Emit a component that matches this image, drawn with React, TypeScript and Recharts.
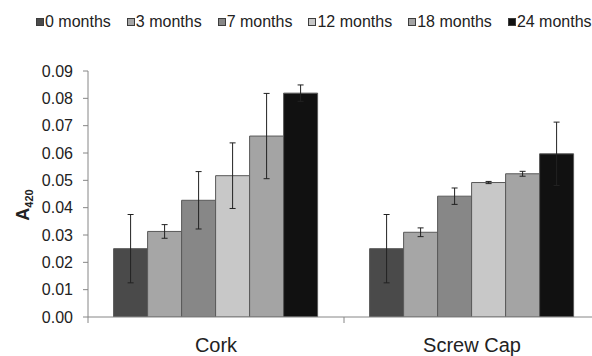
import React from 'react';
import { BarChart, Bar, XAxis, YAxis, ErrorBar } from 'recharts';

const closures = ['Cork', 'Screw Cap'];
const months = ['0 months', '3 months', '7 months', '12 months', '18 months', '24 months'];
const seriesKeys = ['m0', 'm3', 'm7', 'm12', 'm18', 'm24'];
const colors = ['#4a4a4a', '#a6a6a6', '#878787', '#c8c8c8', '#a4a4a4', '#111111'];

// A420 means, one entry per closure
const m0 = [0.025, 0.025];
const m3 = [0.0313, 0.031];
const m7 = [0.0427, 0.0442];
const m12 = [0.0517, 0.0492];
const m18 = [0.0662, 0.0524];
const m24 = [0.0819, 0.0597];

// error (+/-)
const m0Err = [0.0125, 0.0125];
const m3Err = [0.0025, 0.0016];
const m7Err = [0.0105, 0.003];
const m12Err = [0.012, 0.0004];
const m18Err = [0.0156, 0.0009];
const m24Err = [0.003, 0.0116];

const yTicks = [0, 0.01, 0.02, 0.03, 0.04, 0.05, 0.06, 0.07, 0.08, 0.09];

const values = [m0, m3, m7, m12, m18, m24];
const errors = [m0Err, m3Err, m7Err, m12Err, m18Err, m24Err];

const data = closures.map((name, i) => {
  const row: Record<string, any> = { name };
  seriesKeys.forEach((k, j) => {
    row[k] = values[j][i];
    row[k + 'Err'] = errors[j][i];
  });
  return row;
});

const FONT = '"Liberation Sans", Arial, sans-serif';
const AXIS = '#868686';
const CHART_W = 600;
const CHART_H = 356;
const TOP = 71;
const X_H = 39;
const Y_W = 88;
const HALF_BAND = (CHART_W - Y_W) / closures.length / 2;

const CategoryTick = (props: any) => {
  const { x, payload, index } = props;
  const axisY = CHART_H - X_H;
  return (
    <g>
      <line x1={x - HALF_BAND} y1={axisY} x2={x - HALF_BAND} y2={axisY + 6} stroke={AXIS} />
      {index === closures.length - 1 && (
        <line x1={x + HALF_BAND} y1={axisY} x2={x + HALF_BAND} y2={axisY + 6} stroke={AXIS} />
      )}
      <text x={x} y={axisY + 35} textAnchor="middle" fontSize={20} fill="#222" fontFamily={FONT}>
        {payload.value}
      </text>
    </g>
  );
};

const YLabel = () => {
  const cx = 29;
  const cy = TOP + (CHART_H - TOP - X_H) / 2 + 11;
  return (
    <text
      x={cx}
      y={cy}
      transform={`rotate(-90, ${cx}, ${cy})`}
      textAnchor="middle"
      fontFamily={FONT}
      fontWeight="bold"
      fill="#222"
    >
      <tspan fontSize={18}>A</tspan>
      <tspan fontSize={11} dy={4}>420</tspan>
    </text>
  );
};

const App = () => {
  return (
    <div style={{ position: 'absolute', left: 0, top: 0, width: 592, height: 356, overflow: 'hidden', background: '#fff' }}>
      <div
        style={{
          position: 'absolute',
          top: 13,
          left: 36,
          height: 18,
          display: 'flex',
          alignItems: 'center',
          whiteSpace: 'nowrap',
          fontFamily: FONT,
          fontSize: 16,
          color: '#222',
        }}
      >
        {months.map((m, i) => (
          <div key={m} style={{ display: 'flex', alignItems: 'center', marginRight: 16 }}>
            <span
              style={{
                display: 'inline-block',
                width: 8,
                height: 8,
                boxSizing: 'border-box',
                background: colors[i],
                border: '1px solid #3c3c3c',
                marginRight: 1,
              }}
            />
            <span>{m}</span>
          </div>
        ))}
      </div>
      <BarChart
        width={CHART_W}
        height={CHART_H}
        data={data}
        margin={{ top: TOP, right: 0, bottom: 0, left: 0 }}
        barCategoryGap="10%"
        barGap={0}
      >
        <XAxis
          dataKey="name"
          axisLine={{ stroke: AXIS }}
          tickLine={false}
          tickSize={0}
          tickMargin={0}
          height={X_H}
          interval={0}
          tick={<CategoryTick />}
        />
        <YAxis
          width={Y_W}
          domain={[0, 0.09]}
          ticks={yTicks}
          allowDataOverflow
          tickFormatter={(v: number) => v.toFixed(2)}
          axisLine={{ stroke: AXIS }}
          tickLine={{ stroke: AXIS }}
          tickSize={5}
          tickMargin={10}
          tick={{ fontSize: 16, fill: '#222', fontFamily: FONT }}
          label={<YLabel />}
        />
        {seriesKeys.map((k, i) => (
          <Bar
            key={k}
            dataKey={k}
            name={months[i]}
            fill={colors[i]}
            stroke="#595959"
            strokeWidth={1}
            isAnimationActive={false}
          >
            <ErrorBar dataKey={k + 'Err'} width={3} stroke="#222" strokeWidth={1} direction="y" />
          </Bar>
        ))}
      </BarChart>
    </div>
  );
};

export default App;
